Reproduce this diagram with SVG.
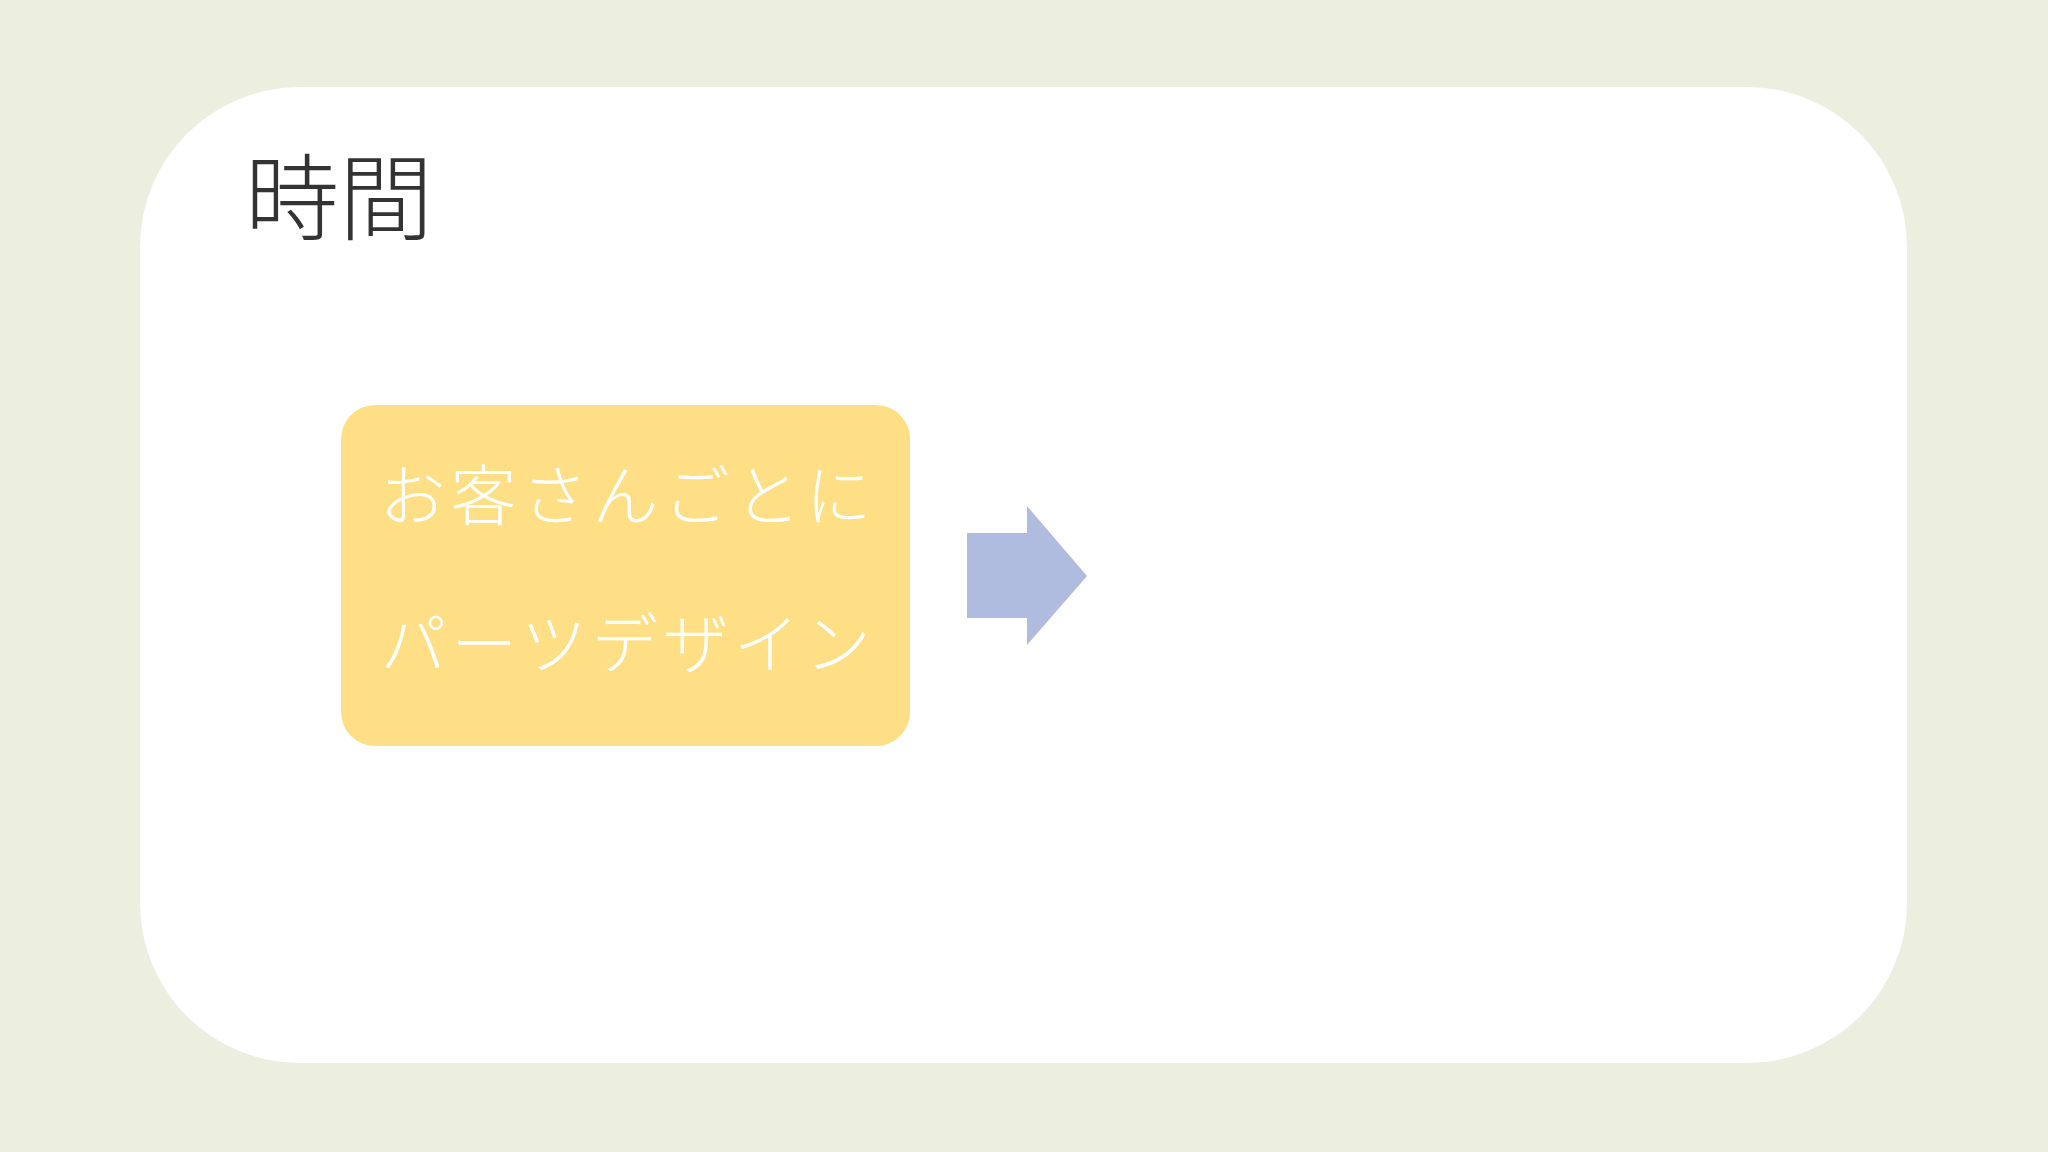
<svg xmlns="http://www.w3.org/2000/svg" width="2048" height="1152" viewBox="0 0 2048 1152">
<style>
.title{font-family:"Noto Sans CJK JP","Noto Sans",sans-serif;font-size:94px;font-weight:300;fill:#333333}
.lbl{font-family:"Noto Sans CJK JP","Noto Sans",sans-serif;font-size:66px;font-weight:300;fill:#ffffff;letter-spacing:5px}
</style>
<rect width="2048" height="1152" fill="#eceedf"/>
<rect x="140" y="87" width="1767" height="976" rx="160" ry="160" fill="#ffffff"/>
<text class="title" x="245" y="233">時間</text>
<g id="node-box">
<rect x="341" y="405" width="569" height="341" rx="34" ry="34" fill="#ffdf85"/>
<text class="lbl" x="628" y="520" text-anchor="middle">お客さんごとに</text>
<text class="lbl" x="628" y="668" text-anchor="middle">パーツデザイン</text>
</g>
<g id="connectors">
<polygon points="967,533 1027,533 1027,506 1087,576 1027,645 1027,618 967,618" fill="#b0bcdf"/>
</g>
</svg>
